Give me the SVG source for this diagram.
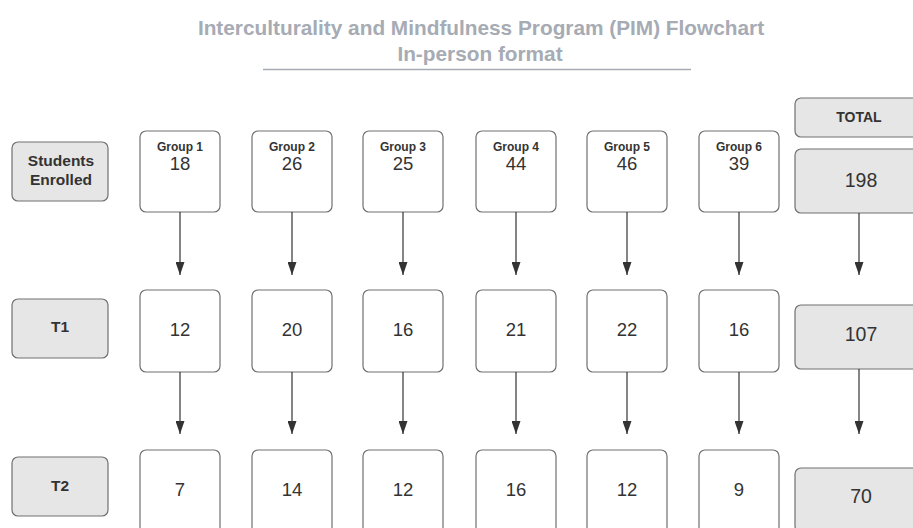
<svg xmlns="http://www.w3.org/2000/svg" width="913" height="528" viewBox="0 0 913 528">
<defs>
<style>
text{font-family:"Liberation Sans",Arial,sans-serif;fill:#333;text-anchor:middle}
.title{font-size:20.8px;font-weight:bold;fill:#a6abb4}
.box{fill:#fff;stroke:#707070;stroke-width:1.2}
.gbox{fill:#e6e6e6;stroke:#707070;stroke-width:1.2}
.lbl{font-size:15.5px;font-weight:bold}
.grp{font-size:12px;font-weight:bold}
.num{font-size:18.5px}
.tnum{font-size:19.5px}
.tot{font-size:14px;font-weight:bold}
.conn{stroke:#333;stroke-width:1.2;fill:none}
</style>
<marker id="ah" markerWidth="9" markerHeight="14" refX="4.5" refY="13" orient="0" markerUnits="userSpaceOnUse">
<path d="M0,0 L9,0 L4.5,13 Z" fill="#333"/>
</marker>
</defs>
<g id="title">
<text class="title" x="481" y="35">Interculturality and Mindfulness Program (PIM) Flowchart</text>
<text class="title" x="480" y="61">In-person format</text>
<line x1="263" y1="69.5" x2="691" y2="69.5" stroke="#a6abb4" stroke-width="1.5"/>
</g>
<g id="label-enrolled"><rect class="gbox" x="12" y="142" width="96" height="59" rx="6"/><text class="lbl" x="61" y="166">Students</text><text class="lbl" x="61" y="185">Enrolled</text></g>
<g id="label-t1"><rect class="gbox" x="12" y="299" width="96" height="59" rx="6"/><text class="lbl" x="60" y="332">T1</text></g>
<g id="label-t2"><rect class="gbox" x="12" y="457" width="96" height="59" rx="6"/><text class="lbl" x="60" y="491">T2</text></g>
<g id="g1-enrolled"><rect class="box" x="140" y="131" width="80" height="81" rx="6"/><text class="grp" x="180" y="151">Group 1</text><text class="num" x="180" y="170">18</text></g>
<g id="g2-enrolled"><rect class="box" x="252" y="131" width="80" height="81" rx="6"/><text class="grp" x="292" y="151">Group 2</text><text class="num" x="292" y="170">26</text></g>
<g id="g3-enrolled"><rect class="box" x="363" y="131" width="80" height="81" rx="6"/><text class="grp" x="403" y="151">Group 3</text><text class="num" x="403" y="170">25</text></g>
<g id="g4-enrolled"><rect class="box" x="476" y="131" width="80" height="81" rx="6"/><text class="grp" x="516" y="151">Group 4</text><text class="num" x="516" y="170">44</text></g>
<g id="g5-enrolled"><rect class="box" x="587" y="131" width="80" height="81" rx="6"/><text class="grp" x="627" y="151">Group 5</text><text class="num" x="627" y="170">46</text></g>
<g id="g6-enrolled"><rect class="box" x="699" y="131" width="80" height="81" rx="6"/><text class="grp" x="739" y="151">Group 6</text><text class="num" x="739" y="170">39</text></g>
<g id="g1-t1"><rect class="box" x="140" y="290" width="80" height="82" rx="6"/><text class="num" x="180" y="336">12</text></g>
<g id="g2-t1"><rect class="box" x="252" y="290" width="80" height="82" rx="6"/><text class="num" x="292" y="336">20</text></g>
<g id="g3-t1"><rect class="box" x="363" y="290" width="80" height="82" rx="6"/><text class="num" x="403" y="336">16</text></g>
<g id="g4-t1"><rect class="box" x="476" y="290" width="80" height="82" rx="6"/><text class="num" x="516" y="336">21</text></g>
<g id="g5-t1"><rect class="box" x="587" y="290" width="80" height="82" rx="6"/><text class="num" x="627" y="336">22</text></g>
<g id="g6-t1"><rect class="box" x="699" y="290" width="80" height="82" rx="6"/><text class="num" x="739" y="336">16</text></g>
<g id="g1-t2"><rect class="box" x="140" y="450" width="80" height="90" rx="6"/><text class="num" x="180" y="496">7</text></g>
<g id="g2-t2"><rect class="box" x="252" y="450" width="80" height="90" rx="6"/><text class="num" x="292" y="496">14</text></g>
<g id="g3-t2"><rect class="box" x="363" y="450" width="80" height="90" rx="6"/><text class="num" x="403" y="496">12</text></g>
<g id="g4-t2"><rect class="box" x="476" y="450" width="80" height="90" rx="6"/><text class="num" x="516" y="496">16</text></g>
<g id="g5-t2"><rect class="box" x="587" y="450" width="80" height="90" rx="6"/><text class="num" x="627" y="496">12</text></g>
<g id="g6-t2"><rect class="box" x="699" y="450" width="80" height="90" rx="6"/><text class="num" x="739" y="496">9</text></g>
<g id="total-header"><rect class="gbox" x="795" y="98" width="130" height="39" rx="6"/><text class="tot" x="859" y="122">TOTAL</text></g>
<g id="total-enrolled"><rect class="gbox" x="795" y="149" width="130" height="64" rx="6"/><text class="tnum" x="861" y="187">198</text></g>
<g id="total-t1"><rect class="gbox" x="795" y="305" width="130" height="64" rx="6"/><text class="tnum" x="861" y="341">107</text></g>
<g id="total-t2"><rect class="gbox" x="795" y="468" width="130" height="64" rx="6"/><text class="tnum" x="861" y="503">70</text></g>
<g id="connectors">
<line class="conn" x1="180" y1="212" x2="180" y2="275" marker-end="url(#ah)"/>
<line class="conn" x1="292" y1="212" x2="292" y2="275" marker-end="url(#ah)"/>
<line class="conn" x1="403" y1="212" x2="403" y2="275" marker-end="url(#ah)"/>
<line class="conn" x1="516" y1="212" x2="516" y2="275" marker-end="url(#ah)"/>
<line class="conn" x1="627" y1="212" x2="627" y2="275" marker-end="url(#ah)"/>
<line class="conn" x1="739" y1="212" x2="739" y2="275" marker-end="url(#ah)"/>
<line class="conn" x1="859" y1="213" x2="859" y2="275" marker-end="url(#ah)"/>
<line class="conn" x1="180" y1="372" x2="180" y2="434" marker-end="url(#ah)"/>
<line class="conn" x1="292" y1="372" x2="292" y2="434" marker-end="url(#ah)"/>
<line class="conn" x1="403" y1="372" x2="403" y2="434" marker-end="url(#ah)"/>
<line class="conn" x1="516" y1="372" x2="516" y2="434" marker-end="url(#ah)"/>
<line class="conn" x1="627" y1="372" x2="627" y2="434" marker-end="url(#ah)"/>
<line class="conn" x1="739" y1="372" x2="739" y2="434" marker-end="url(#ah)"/>
<line class="conn" x1="859" y1="369" x2="859" y2="434" marker-end="url(#ah)"/>
</g>
</svg>
